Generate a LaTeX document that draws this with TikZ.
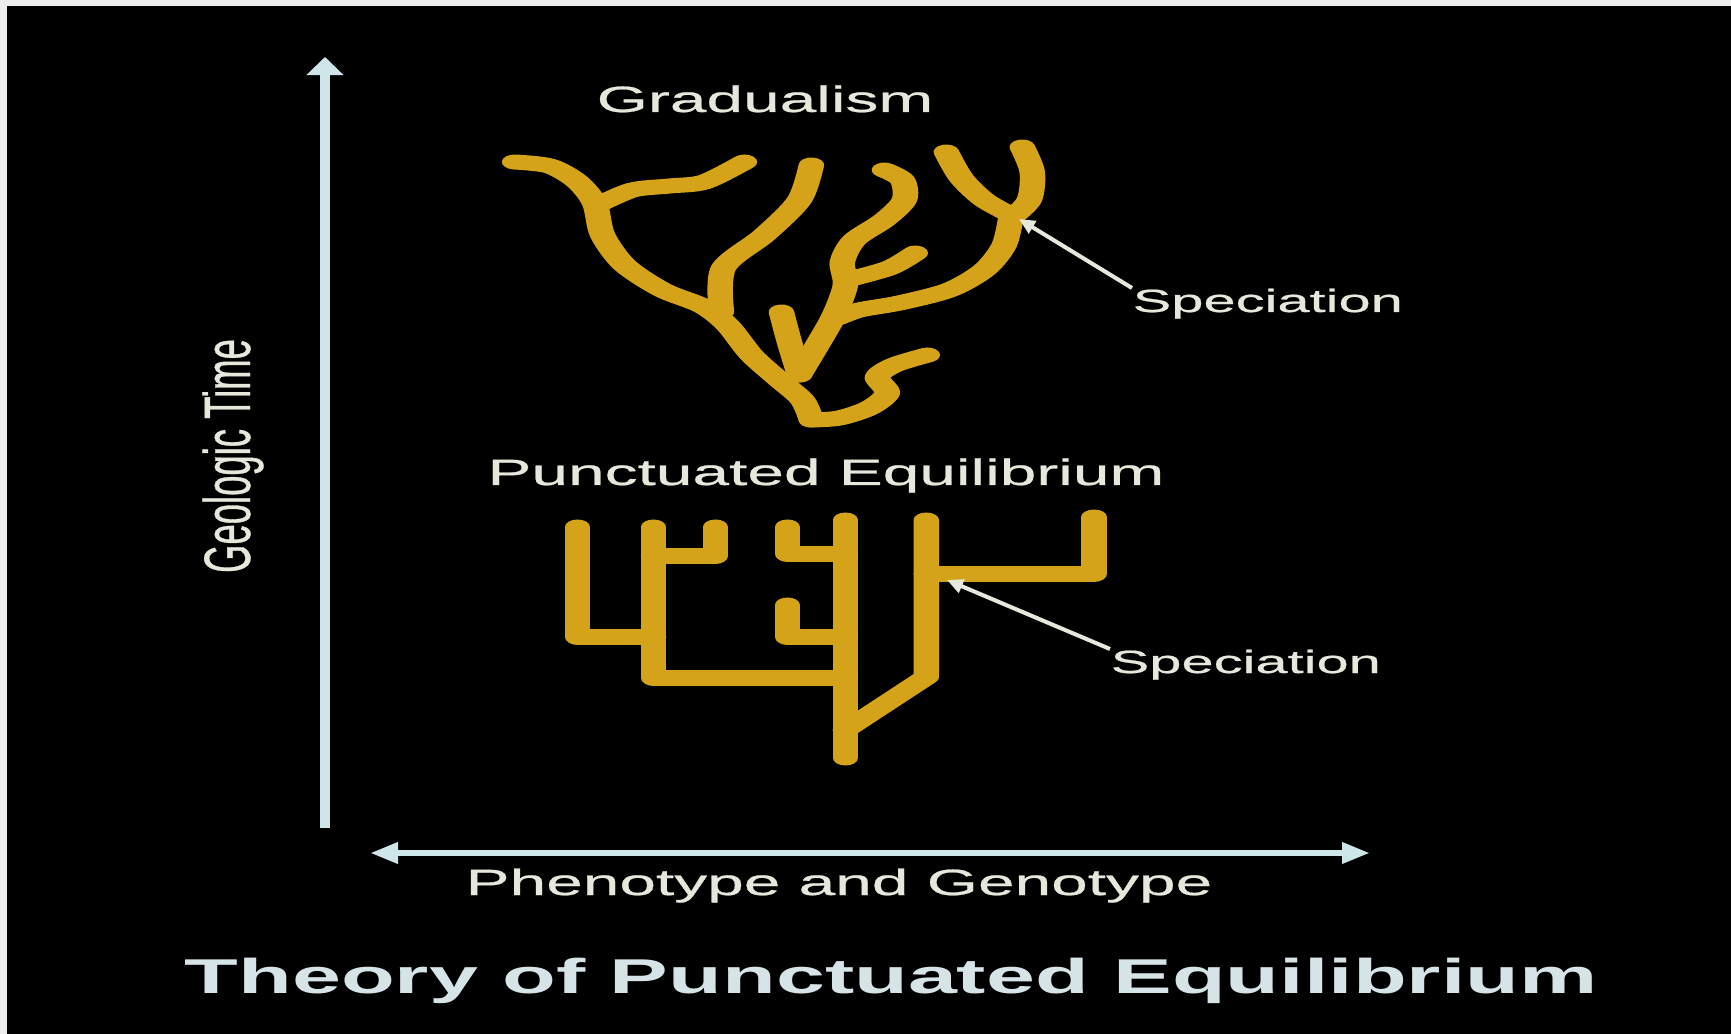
\documentclass[tikz,border=0pt]{standalone}
\usepackage{fontspec}
\usepackage{tikz}
\usetikzlibrary{
    arrows.meta,
    positioning
}
\newfontfamily\slidefont[FakeStretch=1.8, FakeBold=0.7]{Liberation Sans}
\newfontfamily\slidetitlefont[FakeStretch=1.8]{Liberation Sans Bold}
\newfontfamily\slideupfont[FakeStretch=0.5556, FakeBold=0.5]{Liberation Sans}
\definecolor{slideInk}{RGB}{230,232,220}
\definecolor{titleInk}{RGB}{214,228,232}
\definecolor{axisInk}{RGB}{206,229,233}
\definecolor{treeGold}{RGB}{212,163,25}
\tikzset{
  lbl/.style     = {text=slideInk, inner sep=0pt, anchor=base,
                    font=\slidefont\fontsize{10.4}{12}\selectfont},
  slbl/.style    = {lbl, anchor=base west,
                    font=\slidefont\fontsize{9.14}{11}\selectfont},
  branch/.style  = {draw=treeGold, line width=0.15cm, line cap=round,
                    line join=round},
  axis/.style    = {draw=axisInk, line width=0.1cm},
  pointer/.style = {draw=slideInk, line width=0.04cm,
                    -{Triangle[length=0.16cm, width=0.14cm]}}
}

\begin{document}
\begin{tikzpicture}[x=0.01cm, y=-0.01cm]
    \useasboundingbox (0,0) rectangle (1731,1034);
    \fill[white!93!black] (0,0) rectangle (1731,1034);
    \fill[black] (7,6) rectangle (1731,1034);

    % axes
    \coordinate (tlow) at (325,828);
    \coordinate (thigh) at (325,57);
    \coordinate (pleft) at (370,853);
    \coordinate (pright) at (1370,853);
    \draw[axis, -{Triangle[length=0.18cm, width=0.36cm]}] (tlow) -- (thigh);
    \draw[axis, line width=0.065cm,
          {Triangle[length=0.28cm, width=0.2cm]}-{Triangle[length=0.28cm, width=0.2cm]}]
          (pleft) -- (pright);

    % labels
    \node[lbl] (grad) at (765,112) {Gradualism};
    \node[lbl] (punc) at (826,485) {Punctuated Equilibrium};
    \node[slbl] (specA) at (1132,312) {Speciation};
    \node[slbl] (specB) at (1110,673) {Speciation};
    \node[lbl] (pheno) at (839,895) {Phenotype and Genotype};
    \node[lbl, rotate=90, font=\slideupfont\fontsize{18.67}{20}\selectfont]
          (geo) at (250,456) {Geologic Time};
    \node[lbl, text=titleInk, font=\slidetitlefont\fontsize{13.9}{16}\selectfont]
          (title) at (891,993) {Theory of Punctuated Equilibrium};

    % trees, stretched like the slide
    \begin{scope}[transform canvas={xscale=1.7}, x=0.005882cm]
      % gradualism
      \draw[branch] plot[smooth] coordinates {(515,162) (550,166) (577,181) (595,203)
            (603,235) (625,265) (663,290) (703,306) (728,325) (752,355) (780,380)
            (803,400) (812,420)};
      \draw[branch] plot[smooth] coordinates {(598,205) (633,190) (670,186) (705,182) (745,162)};
      \draw[branch] plot[smooth] coordinates {(722,312) (724,268) (765,235) (800,200) (812,165)};
      \draw[branch] plot[smooth] coordinates {(782,312) (790,342) (800,375)};
      \draw[branch] plot[smooth] coordinates {(885,170) (903,180) (905,200) (885,220)
            (855,240) (843,262) (846,285) (835,315) (818,345) (800,375)};
      \draw[branch] plot[smooth] coordinates {(916,253) (890,268) (847,280)};
      \draw[branch] plot[smooth] coordinates {(947,152) (962,178) (985,200) (1012,215)};
      \draw[branch] plot[smooth] coordinates {(1023,147) (1033,172) (1030,200) (1012,218)};
      \draw[branch] plot[smooth] coordinates {(1012,215) (1005,245) (985,270) (950,290)
            (900,303) (860,310) (838,318)};
      \draw[branch] plot[smooth] coordinates {(928,355) (895,365) (878,377) (888,393)
            (870,408) (840,418) (812,420)};
      % punctuated equilibrium
      \draw[branch] (578,527) -- (578,637) -- (654,637);
      \draw[branch] (654,527) -- (654,678) -- (846,678);
      \draw[branch] (654,556) -- (716,556) -- (716,527);
      \draw[branch] (788,527) -- (788,554) -- (846,554);
      \draw[branch] (788,605) -- (788,637) -- (846,637);
      \draw[branch] (846,520) -- (846,758);
      \draw[branch] (846,730) -- (927,677) -- (927,520);
      \draw[branch] (927,574) -- (1095,574) -- (1095,517);
    \end{scope}

    % speciation pointers
    \coordinate (gsplit) at (1019,219);
    \coordinate (psplit) at (947,580);
    \draw[pointer] (specA.north west) -- (gsplit);
    \draw[pointer] (specB.north west) -- (psplit);
\end{tikzpicture}
\end{document}
